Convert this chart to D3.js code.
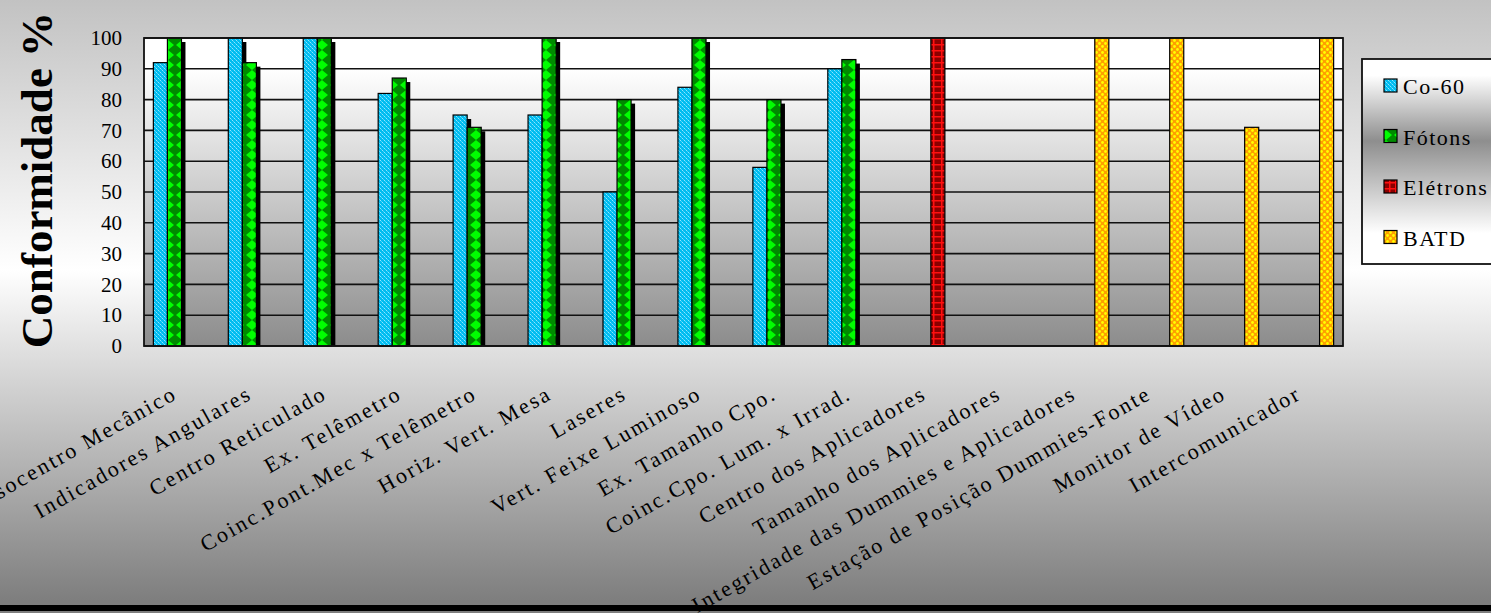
<!DOCTYPE html>
<html>
<head>
<meta charset="utf-8">
<script src="https://cdn.jsdelivr.net/npm/d3@7"></script>
<style>
  html, body { margin: 0; padding: 0; overflow: hidden; }
  svg { display: block; }
  svg text { font-family: 'Liberation Serif', 'DejaVu Serif', serif; }
</style>
</head>
<body>
<div class="svg-container"></div>
<script>
const chart_width = 1491;
const chart_height = 613;

// data
const categories = [
  "Isocentro Mecânico", "Indicadores Angulares", "Centro Reticulado", "Ex. Telêmetro",
  "Coinc.Pont.Mec x Telêmetro", "Horiz. Vert. Mesa", "Laseres", "Vert. Feixe Luminoso",
  "Ex. Tamanho Cpo.", "Coinc.Cpo. Lum. x Irrad.", "Centro dos Aplicadores",
  "Tamanho dos Aplicadores", "Integridade das Dummies e Aplicadores",
  "Estação de Posição Dummies-Fonte", "Monitor de Vídeo", "Intercomunicador"
];
const series_names = ["Co-60", "Fótons", "Elétrons", "BATD"];
const co60_values    = [92, 100, 100, 82, 75, 75, 50, 84, 58, 90, null, null, null, null, null, null];
const fotons_values  = [100, 92, 100, 87, 71, 100, 80, 100, 80, 93, null, null, null, null, null, null];
const eletrons_values = [null, null, null, null, null, null, null, null, null, null, 100, null, null, null, null, null];
const batd_values    = [null, null, null, null, null, null, null, null, null, null, null, null, 100, 100, 71, 100];
const y_ticks = [0, 10, 20, 30, 40, 50, 60, 70, 80, 90, 100];

const all_series = [co60_values, fotons_values, eletrons_values, batd_values];
const with_shadow = [true, true, false, false];

const plot = {left: 144, right: 1343, top: 38, bottom: 346};

const svg = d3.select('.svg-container').append('svg')
  .attr('width', chart_width).attr('height', chart_height);

const defs = svg.append('defs');

// gradients
function vgrad(id, stops) {
  const g = defs.append('linearGradient').attr('id', id)
    .attr('x1', 0).attr('y1', 0).attr('x2', 0).attr('y2', 1);
  stops.forEach(s => g.append('stop').attr('offset', s[0]).attr('stop-color', s[1]));
}
vgrad('bg-grad', [[0, '#c2c2c2'], [0.44, '#ffffff'], [0.98, '#7e7e7e']]);
vgrad('plot-grad', [[0, '#ffffff'], [0.1, '#ffffff'], [1, '#8c8c8c']]);
vgrad('legend-grad', [[0, '#ffffff'], [0.08, '#ffffff'], [0.4, '#8e8e8e'], [0.85, '#ffffff'], [1, '#ffffff']]);

// fill patterns, one per series
const p_co60 = defs.append('pattern').attr('id', 'pat-0')
  .attr('patternUnits', 'userSpaceOnUse').attr('width', 4).attr('height', 4);
p_co60.append('rect').attr('width', 4).attr('height', 4).attr('fill', '#00bdf0');
p_co60.append('rect').attr('x', 0).attr('y', 0).attr('width', 1).attr('height', 1).attr('fill', '#8fe4ff');
p_co60.append('rect').attr('x', 2).attr('y', 2).attr('width', 1).attr('height', 1).attr('fill', '#8fe4ff');
p_co60.append('rect').attr('x', 1).attr('y', 1).attr('width', 1).attr('height', 1).attr('fill', '#4fd2fa');
p_co60.append('rect').attr('x', 3).attr('y', 3).attr('width', 1).attr('height', 1).attr('fill', '#4fd2fa');

const p_fot = defs.append('pattern').attr('id', 'pat-1')
  .attr('patternUnits', 'userSpaceOnUse').attr('width', 14).attr('height', 10);
p_fot.append('rect').attr('width', 14).attr('height', 10).attr('fill', '#008a00');
p_fot.append('polygon').attr('points', '0,0 6,5 0,10').attr('fill', '#00ff00');
p_fot.append('polygon').attr('points', '14,0 8,5 14,10').attr('fill', '#00ff00');

const p_ele = defs.append('pattern').attr('id', 'pat-2')
  .attr('patternUnits', 'userSpaceOnUse').attr('width', 14).attr('height', 6);
p_ele.append('rect').attr('width', 14).attr('height', 6).attr('fill', '#8b0000');
p_ele.append('rect').attr('x', 0).attr('y', 2).attr('width', 14).attr('height', 1.5).attr('fill', '#ff1010');
p_ele.append('rect').attr('x', 3).attr('y', 0).attr('width', 1.5).attr('height', 6).attr('fill', '#ff1010');
p_ele.append('rect').attr('x', 9).attr('y', 0).attr('width', 1.5).attr('height', 6).attr('fill', '#ff1010');

const p_batd = defs.append('pattern').attr('id', 'pat-3')
  .attr('patternUnits', 'userSpaceOnUse').attr('width', 6).attr('height', 6);
p_batd.append('rect').attr('width', 6).attr('height', 6).attr('fill', '#ffa000');
p_batd.append('circle').attr('cx', 1.5).attr('cy', 1.5).attr('r', 1.4).attr('fill', '#ffff00');
p_batd.append('circle').attr('cx', 4.5).attr('cy', 4.5).attr('r', 1.4).attr('fill', '#ffff00');

// background
svg.append('rect').attr('width', chart_width).attr('height', chart_height).attr('fill', 'url(#bg-grad)');
svg.append('rect').attr('x', 0).attr('y', 605).attr('width', chart_width).attr('height', 6).attr('fill', '#000');

// scales
const x0 = d3.scaleBand().domain(categories).range([plot.left, plot.right])
  .paddingInner(0.25).paddingOuter(0.125);
const x1 = d3.scaleBand().domain(series_names).range([0, x0.bandwidth()]);
const y = d3.scaleLinear().domain([0, 100]).range([plot.bottom, plot.top]);

// plot area + grid
svg.append('rect')
  .attr('x', plot.left).attr('y', plot.top)
  .attr('width', plot.right - plot.left).attr('height', plot.bottom - plot.top)
  .attr('fill', 'url(#plot-grad)');

svg.append('g').selectAll('line').data(y_ticks).enter().append('line')
  .attr('x1', plot.left).attr('x2', plot.right)
  .attr('y1', d => y(d)).attr('y2', d => y(d))
  .attr('stroke', '#111').attr('stroke-width', 1.6);

// bars
const bar_rows = [];
categories.forEach((c, i) => {
  all_series.forEach((vals, s) => {
    if (vals[i] != null) bar_rows.push({cat: c, s: s, v: vals[i]});
  });
});

const g_bars = svg.append('g');
bar_rows.forEach(d => {
  const bx = x0(d.cat) + x1(series_names[d.s]);
  const bw = x1.bandwidth();
  const by = y(d.v);
  if (with_shadow[d.s]) {
    g_bars.append('rect')
      .attr('x', bx + 4).attr('y', by + 4)
      .attr('width', bw).attr('height', y(0) - by - 4)
      .attr('fill', '#000');
  }
  g_bars.append('rect')
    .attr('x', bx).attr('y', by)
    .attr('width', bw).attr('height', y(0) - by)
    .attr('fill', 'url(#pat-' + d.s + ')')
    .attr('stroke', '#000').attr('stroke-width', 1.2);
});

// plot border
svg.append('rect')
  .attr('x', plot.left).attr('y', plot.top)
  .attr('width', plot.right - plot.left).attr('height', plot.bottom - plot.top)
  .attr('fill', 'none').attr('stroke', '#111').attr('stroke-width', 1.8);

// y axis
const y_axis = svg.append('g')
  .attr('transform', 'translate(' + plot.left + ',0)')
  .call(d3.axisLeft(y).tickValues(y_ticks).tickSize(0).tickPadding(22));
y_axis.select('.domain').remove();
y_axis.attr('font-family', null).attr('font-size', null);
y_axis.selectAll('text')
  .style('font-size', '21px').attr('fill', '#000');

svg.append('text')
  .attr('transform', 'translate(52,180) rotate(-90)')
  .attr('text-anchor', 'middle')
  .style('font-size', '45px').style('font-weight', 'bold')
  .text('Conformidade %');

// x labels
svg.append('g').selectAll('text').data(categories).enter().append('text')
  .attr('transform', d => 'translate(' + (x0(d) + x0.bandwidth() / 2 - 3) + ',398) rotate(-29.5)')
  .attr('text-anchor', 'end')
  .style('font-size', '22px').style('letter-spacing', '2.3px')
  .attr('fill', '#000')
  .text(d => d);

// legend
const legend = svg.append('g');
legend.append('rect')
  .attr('x', 1362).attr('y', 59).attr('width', 160).attr('height', 205)
  .attr('fill', 'url(#legend-grad)').attr('stroke', '#111').attr('stroke-width', 1.8);
series_names.forEach((name, i) => {
  const cy = 86 + i * 50.5;
  legend.append('rect')
    .attr('x', 1384).attr('y', cy - 7).attr('width', 13).attr('height', 13)
    .attr('fill', 'url(#pat-' + i + ')').attr('stroke', '#000').attr('stroke-width', 1.2);
  legend.append('text')
    .attr('x', 1403).attr('y', cy + 8)
    .style('font-size', '22px').style('letter-spacing', '1.5px')
    .text(name);
});
</script>
</body>
</html>
